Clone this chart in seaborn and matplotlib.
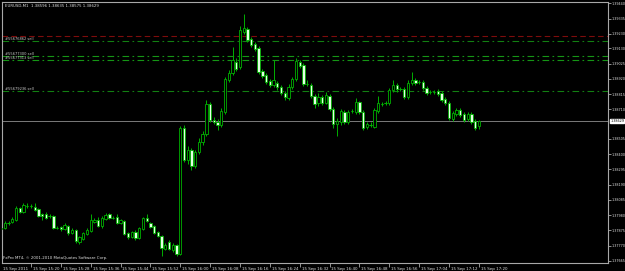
import matplotlib
matplotlib.use("Agg")
import matplotlib.pyplot as plt
import seaborn as sns
import numpy as np
import pandas as pd

# ---------------- data ----------------
header_text = "EURUSD,M1  1.38596 1.38635 1.38575 1.38629"
footer_text = "FxPro MT4, \u00a9 2001-2010 MetaQuotes Software Corp."

opens = [1.37884, 1.37891, 1.37925, 1.37932, 1.37946, 1.38029, 1.38001, 1.38043, 1.38043, 1.38036,
         1.38022, 1.37987, 1.37987, 1.37974, 1.37974, 1.37891, 1.37898, 1.37884, 1.37905, 1.37856,
         1.37877, 1.37794, 1.37815, 1.37849, 1.37870, 1.37932, 1.37946, 1.37905, 1.37953, 1.37987,
         1.37960, 1.37967, 1.37925, 1.37939, 1.37856, 1.37829, 1.37863, 1.37822, 1.37884, 1.37960,
         1.37925, 1.37905, 1.37863, 1.37836, 1.37746, 1.37794, 1.37739, 1.37774, 1.37711, 1.38581,
         1.38360, 1.38429, 1.38319, 1.38415, 1.38484, 1.38539, 1.38746, 1.38636, 1.38622, 1.38602,
         1.38691, 1.38912, 1.38960, 1.39036, 1.39002, 1.39243, 1.39264, 1.39195, 1.39160, 1.39133,
         1.38974, 1.38947, 1.38905, 1.38878, 1.38891, 1.38864, 1.38822, 1.38788, 1.38864, 1.38919,
         1.39036, 1.39016, 1.38884, 1.38878, 1.38802, 1.38753, 1.38795, 1.38753, 1.38802, 1.38712,
         1.38608, 1.38622, 1.38691, 1.38622, 1.38698, 1.38691, 1.38760, 1.38691, 1.38588, 1.38602,
         1.38588, 1.38698, 1.38746, 1.38753, 1.38753, 1.38843, 1.38878, 1.38850, 1.38850, 1.38795,
         1.38891, 1.38912, 1.38898, 1.38898, 1.38857, 1.38829, 1.38829, 1.38836, 1.38822, 1.38781,
         1.38753, 1.38643, 1.38677, 1.38705, 1.38677, 1.38643, 1.38677, 1.38629, 1.38596]
highs = [1.37905, 1.37939, 1.37939, 1.37967, 1.38043, 1.38036, 1.38063, 1.38063, 1.38056, 1.38063,
         1.38029, 1.37994, 1.38001, 1.37987, 1.37981, 1.37905, 1.37905, 1.37925, 1.37912, 1.37891,
         1.37884, 1.37836, 1.37863, 1.37891, 1.37987, 1.37960, 1.37967, 1.37974, 1.37994, 1.37994,
         1.37974, 1.37987, 1.37953, 1.37946, 1.37863, 1.37870, 1.37877, 1.37898, 1.37967, 1.37987,
         1.37932, 1.37912, 1.37870, 1.37843, 1.37787, 1.37808, 1.37787, 1.37780, 1.38595, 1.38602,
         1.38457, 1.38443, 1.38429, 1.38512, 1.38560, 1.38774, 1.38760, 1.38657, 1.38643, 1.38719,
         1.38933, 1.38981, 1.39140, 1.39064, 1.39285, 1.39367, 1.39278, 1.39209, 1.39174, 1.39147,
         1.38988, 1.38960, 1.38919, 1.39050, 1.38905, 1.38878, 1.38836, 1.38884, 1.38933, 1.39064,
         1.39050, 1.39029, 1.38912, 1.38891, 1.38815, 1.38822, 1.38809, 1.38829, 1.38815, 1.38726,
         1.38650, 1.38712, 1.38705, 1.38705, 1.38712, 1.38788, 1.38767, 1.38705, 1.38622, 1.38622,
         1.38719, 1.38802, 1.38760, 1.38767, 1.38857, 1.38912, 1.38891, 1.38864, 1.38864, 1.38912,
         1.38967, 1.38926, 1.38912, 1.38912, 1.38871, 1.38843, 1.38843, 1.38850, 1.38836, 1.38795,
         1.38767, 1.38698, 1.38719, 1.38719, 1.38691, 1.38691, 1.38691, 1.38643, 1.38635]
lows = [1.37877, 1.37884, 1.37912, 1.37925, 1.37939, 1.37994, 1.37994, 1.38029, 1.38029, 1.38008,
        1.37967, 1.37946, 1.37953, 1.37960, 1.37884, 1.37884, 1.37870, 1.37877, 1.37843, 1.37849,
        1.37787, 1.37780, 1.37808, 1.37843, 1.37863, 1.37925, 1.37898, 1.37891, 1.37946, 1.37953,
        1.37953, 1.37918, 1.37918, 1.37843, 1.37815, 1.37822, 1.37808, 1.37815, 1.37877, 1.37932,
        1.37891, 1.37849, 1.37829, 1.37698, 1.37739, 1.37739, 1.37725, 1.37698, 1.37705, 1.38346,
        1.38332, 1.38291, 1.38305, 1.38402, 1.38464, 1.38526, 1.38622, 1.38608, 1.38567, 1.38588,
        1.38677, 1.38898, 1.38947, 1.38974, 1.38988, 1.39229, 1.39174, 1.39140, 1.39112, 1.38953,
        1.38926, 1.38884, 1.38864, 1.38864, 1.38843, 1.38809, 1.38774, 1.38774, 1.38850, 1.38905,
        1.38995, 1.38871, 1.38871, 1.38788, 1.38719, 1.38733, 1.38740, 1.38746, 1.38698, 1.38581,
        1.38526, 1.38602, 1.38608, 1.38608, 1.38684, 1.38677, 1.38677, 1.38567, 1.38574, 1.38588,
        1.38581, 1.38684, 1.38733, 1.38740, 1.38740, 1.38829, 1.38829, 1.38836, 1.38781, 1.38781,
        1.38878, 1.38878, 1.38884, 1.38843, 1.38809, 1.38815, 1.38815, 1.38802, 1.38760, 1.38740,
        1.38636, 1.38629, 1.38664, 1.38657, 1.38622, 1.38629, 1.38608, 1.38567, 1.38575]
closes = [1.37891, 1.37925, 1.37925, 1.37953, 1.38029, 1.38001, 1.38050, 1.38043, 1.38043, 1.38015,
          1.37974, 1.37974, 1.37960, 1.37974, 1.37891, 1.37891, 1.37884, 1.37912, 1.37856, 1.37877,
          1.37801, 1.37829, 1.37856, 1.37877, 1.37946, 1.37946, 1.37905, 1.37960, 1.37981, 1.37960,
          1.37960, 1.37925, 1.37946, 1.37849, 1.37829, 1.37863, 1.37822, 1.37891, 1.37960, 1.37939,
          1.37898, 1.37856, 1.37836, 1.37753, 1.37774, 1.37746, 1.37774, 1.37711, 1.38581, 1.38360,
          1.38429, 1.38319, 1.38415, 1.38484, 1.38539, 1.38746, 1.38636, 1.38622, 1.38602, 1.38698,
          1.38919, 1.38960, 1.39050, 1.38988, 1.39257, 1.39271, 1.39188, 1.39154, 1.39126, 1.38967,
          1.38940, 1.38898, 1.38878, 1.38912, 1.38864, 1.38822, 1.38795, 1.38864, 1.38919, 1.39043,
          1.39009, 1.38884, 1.38884, 1.38802, 1.38746, 1.38795, 1.38753, 1.38809, 1.38712, 1.38608,
          1.38629, 1.38698, 1.38622, 1.38691, 1.38698, 1.38760, 1.38691, 1.38581, 1.38608, 1.38602,
          1.38705, 1.38753, 1.38746, 1.38753, 1.38843, 1.38878, 1.38850, 1.38850, 1.38795, 1.38891,
          1.38912, 1.38891, 1.38898, 1.38857, 1.38822, 1.38829, 1.38829, 1.38815, 1.38774, 1.38753,
          1.38650, 1.38684, 1.38705, 1.38671, 1.38636, 1.38677, 1.38622, 1.38581, 1.38629]

time_tick_labels = ["15 Sep 15:20", "15 Sep 15:28", "15 Sep 15:36", "15 Sep 15:44", "15 Sep 15:52",
                    "15 Sep 16:00", "15 Sep 16:08", "15 Sep 16:16", "15 Sep 16:24", "15 Sep 16:32",
                    "15 Sep 16:40", "15 Sep 16:48", "15 Sep 16:56", "15 Sep 17:04", "15 Sep 17:12",
                    "15 Sep 17:20"]
first_date_label = "15 Sep 2011"

price_ticks = [1.39440, 1.39335, 1.39230, 1.39130, 1.39025, 1.38920, 1.38815, 1.38710,
               1.38505, 1.38400, 1.38295, 1.38190, 1.38085, 1.37980, 1.37875, 1.37770, 1.37665]

order_labels = ["#55676862 sell", "#55677300 sell", "#55677313 sell", "#55679236 sell"]
order_prices = [1.39181, 1.39078, 1.39050, 1.38836]
stop_price = 1.39216
current_price = 1.38629

# ---------------- figure ----------------
sns.set_theme(style="dark", rc={"axes.facecolor": "black", "figure.facecolor": "black"})
plt.rcParams["font.family"] = ["DejaVu Sans"]

W, H = 625, 271
fig = plt.figure(figsize=(W / 100, H / 100), dpi=100)
ax = fig.add_axes([2 / W, 1 - 263 / H, 606 / W, 261 / H])
ax.set_facecolor("black")

df = pd.DataFrame({"open": opens, "high": highs, "low": lows, "close": closes})
df["t"] = pd.date_range("2011-09-15 15:12", periods=len(df), freq="min")
df["x"] = np.arange(len(df))
df["bull"] = df["close"] >= df["open"]

green = "#00b000"
bear_fill = "#e4ffe4"
body_w = 0.62

# wicks
ax.vlines(df["x"], df["low"], df["high"], color=green, linewidth=0.7, zorder=3)
# bodies
bottoms = np.minimum(df["open"], df["close"])
heights = (df["close"] - df["open"]).abs()
faces = [("black" if b else bear_fill) for b in df["bull"]]
ax.bar(df["x"], heights, bottom=bottoms, width=body_w, color=faces,
       edgecolor=green, linewidth=0.6, zorder=4)
doji = df[heights < 1e-7]
ax.hlines(doji["open"], doji["x"] - body_w / 2, doji["x"] + body_w / 2,
          color=green, linewidth=0.8, zorder=4)

# order lines
ax.axhline(stop_price, color="#7e0c0c", linewidth=0.8, linestyle=(0, (5, 3)), zorder=2)
line_cols = ["#127f12", "#159515", "#159515", "#127f12"]
for lab, p, c in zip(order_labels, order_prices, line_cols):
    ax.axhline(p, color=c, linewidth=0.8, linestyle=(0, (6, 3, 1.5, 3)), zorder=2)
    ax.text(1.0, p + 0.00003, lab, color="#c8c8c8", fontsize=2.6, va="bottom", ha="left", zorder=6)

# current price line
ax.axhline(current_price, color="#7a7a7a", linewidth=0.7, zorder=1)

# axes ranges
ax.set_xlim(0.24, 162.6)
ax.set_ylim(1.376493, 1.394502)

for s in ax.spines.values():
    s.set_visible(True)
    s.set_color("#a8a8a8")
    s.set_linewidth(0.8)

# y ticks on right
ax.yaxis.tick_right()
ax.set_yticks(price_ticks)
ax.set_yticklabels([f"{v:.5f}" for v in price_ticks], color="#e0e0e0", fontsize=2.4)
ax.tick_params(axis="y", which="both", right=True, left=False, length=2, width=0.6,
               color="#a8a8a8", pad=0.5)
ax.grid(False)

# x ticks
tick_pos = [8 + 8 * k for k in range(len(time_tick_labels))]
ax.set_xticks(tick_pos)
ax.set_xticklabels([])
ax.tick_params(axis="x", which="both", bottom=True, length=3, width=0.6, color="#a8a8a8")
xt = ax.get_xaxis_transform()
ax.text(0.5, -0.014, first_date_label, transform=xt, fontsize=2.85, color="#e0e0e0",
        ha="left", va="top", clip_on=False)
for pos, lab in zip(tick_pos, time_tick_labels):
    ax.text(pos + 0.5, -0.014, lab, transform=xt, fontsize=2.85, color="#e0e0e0",
            ha="left", va="top", clip_on=False)

# current price box
ax.text(1.0035, current_price, f"{current_price:.5f}", transform=ax.get_yaxis_transform(),
        fontsize=2.4, color="black", ha="left", va="center", clip_on=False,
        bbox=dict(boxstyle="square,pad=0.1", facecolor="white", edgecolor="white"))

# header and footer
ax.text(0.005, 0.992, header_text, transform=ax.transAxes, fontsize=2.8, color="#e0e0e0",
        ha="left", va="top")
ax.text(0.002, 0.012, footer_text, transform=ax.transAxes, fontsize=2.75, color="#e0e0e0",
        ha="left", va="bottom")

fig.savefig("out.png", dpi=100, facecolor="black")
